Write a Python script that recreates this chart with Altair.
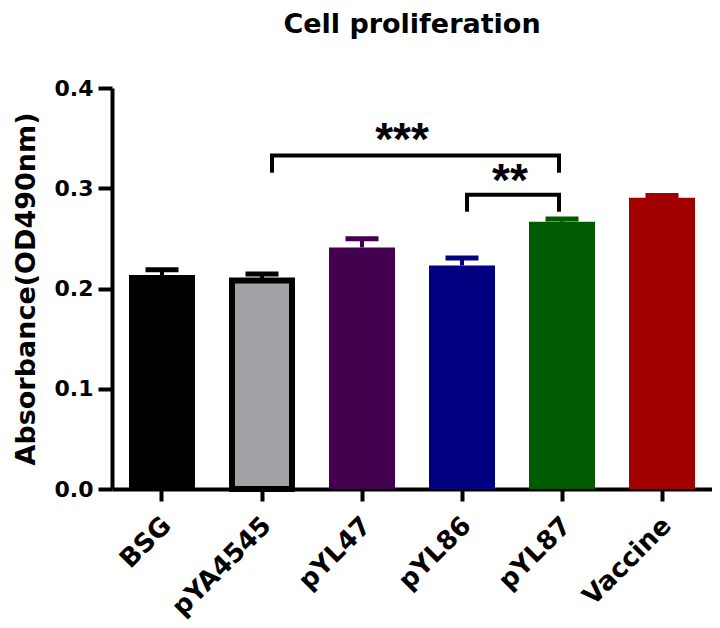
import altair as alt
import pandas as pd

# ---- data ----
groups = ["BSG", "pYA4545", "pYL47", "pYL86", "pYL87", "Vaccine"]
means = [0.2135, 0.208, 0.241, 0.223, 0.2666, 0.2906]
upper = [0.2187, 0.2145, 0.2496, 0.2304, 0.2693, 0.2928]
fills = ["#000000", "#A2A1A6", "#42004F", "#020080", "#005A00", "#A00000"]
edges = ["#000000", "#000000", "#42004F", "#020080", "#005A00", "#A00000"]

# significance brackets
br_start = ["pYA4545", "pYL86"]
br_end = ["pYL87", "pYL87"]
br_y = [0.3327, 0.2936]
br_leg = [0.3155, 0.2766]
br_label = ["***", "**"]

FONT = "DejaVu Sans"
STAR_FONT = "Liberation Sans"

df = pd.DataFrame({"group": groups, "mean": means, "upper": upper})

xenc = alt.X(
    "group:N",
    sort=groups,
    scale=alt.Scale(domain=groups, paddingInner=0.34, paddingOuter=0.17),
    axis=alt.Axis(
        title=None,
        labelAngle=-45,
        labelAlign="right",
        labelBaseline="middle",
        labelFont=FONT,
        labelFontSize=26,
        labelFontWeight="bold",
        labelColor="black",
        labelPadding=20,
        labelOffset=5,
        tickSize=12,
        tickWidth=4,
        tickColor="black",
        domainWidth=4,
        domainColor="black",
    ),
)
yscale = alt.Scale(domain=[0, 0.4], nice=False)
yenc = alt.Y(
    "mean:Q",
    scale=yscale,
    axis=alt.Axis(
        title="Absorbance(OD490nm)",
        titleFont=FONT,
        titleFontSize=27,
        titleFontWeight="bold",
        titleColor="black",
        titlePadding=14,
        values=[0, 0.1, 0.2, 0.3, 0.4],
        format=".1f",
        grid=False,
        labelFont=FONT,
        labelFontSize=22,
        labelFontWeight="bold",
        labelColor="black",
        labelPadding=5,
        tickSize=14,
        tickWidth=4,
        tickColor="black",
        domainWidth=4,
        domainColor="black",
    ),
)
fill_enc = alt.Fill("group:N", scale=alt.Scale(domain=groups, range=fills), legend=None)
stroke_enc = alt.Stroke("group:N", scale=alt.Scale(domain=groups, range=edges), legend=None)

base = alt.Chart(df)

bars = base.transform_filter(alt.datum.group != "pYA4545").mark_bar().encode(
    x=xenc, y=yenc, fill=fill_enc
)
outlined = base.transform_filter(alt.datum.group == "pYA4545").mark_bar(
    stroke="black", strokeWidth=6, width=60
).encode(x=xenc, y=yenc, fill=fill_enc)

stems = base.mark_rule(strokeWidth=4).encode(
    x=xenc, y=alt.Y("mean:Q", scale=yscale), y2="upper:Q", stroke=stroke_enc
)
caps = base.mark_rule(strokeWidth=5, xOffset=-16.5, x2Offset=16.5).encode(
    x=xenc, x2="group:N", y=alt.Y("upper:Q", scale=yscale), stroke=stroke_enc
)

bdf = pd.DataFrame(
    {"start": br_start, "end": br_end, "y": br_y, "leg": br_leg, "label": br_label}
)

layers = [bars, outlined, stems, caps]
left_off = [10, 5]
text_anchor = ["pYL47", "pYL86"]
text_dx = [40, 48]
text_dy = [0, 1]
for i in range(len(br_label)):
    one = alt.Chart(bdf.iloc[[i]])
    layers.append(
        one.mark_rule(strokeWidth=4, color="black", strokeCap="square",
                      xOffset=left_off[i], x2Offset=-3).encode(
            x=alt.X("start:N", scale=alt.Scale(domain=groups)),
            x2="end:N",
            y=alt.Y("y:Q", scale=yscale),
        )
    )
    layers.append(
        one.mark_rule(strokeWidth=4, color="black", xOffset=left_off[i]).encode(
            x=alt.X("start:N", scale=alt.Scale(domain=groups)),
            y=alt.Y("leg:Q", scale=yscale),
            y2="y:Q",
        )
    )
    layers.append(
        one.mark_rule(strokeWidth=4, color="black", xOffset=-3).encode(
            x=alt.X("end:N", scale=alt.Scale(domain=groups)),
            y=alt.Y("leg:Q", scale=yscale),
            y2="y:Q",
        )
    )
    layers.append(
        one.transform_calculate(anchor=f"'{text_anchor[i]}'").mark_text(
            font=STAR_FONT, fontSize=46, fontWeight="bold", color="black",
            baseline="alphabetic", align="center", dx=text_dx[i], dy=text_dy[i]
        ).encode(
            x=alt.X("anchor:N", scale=alt.Scale(domain=groups)),
            y=alt.Y("y:Q", scale=yscale),
            text="label:N",
        )
    )

chart = alt.layer(*layers).properties(
    width=600,
    height=401,
    title=alt.TitleParams(
        "Cell proliferation",
        font=FONT,
        fontSize=27,
        fontWeight="bold",
        color="black",
        anchor="middle",
        offset=38,
    ),
    autosize=alt.AutoSizeParams(type="none"),
    padding={"left": 104, "top": 80, "right": 0, "bottom": 135},
).configure_view(stroke=None)

chart.save("out.html", embed_options={"renderer": "svg", "actions": False})
